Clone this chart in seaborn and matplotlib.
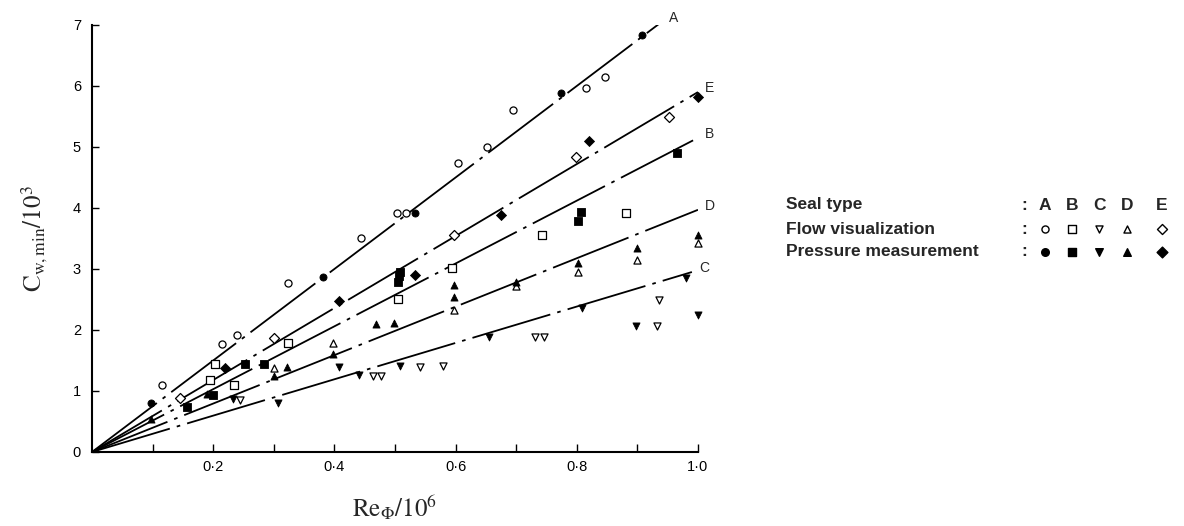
import matplotlib
matplotlib.use("Agg")
import matplotlib.pyplot as plt
import seaborn as sns
import numpy as np

sns.set_style("ticks")
plt.rcParams["font.family"] = ["Liberation Sans", "DejaVu Sans"]
plt.rcParams["mathtext.fontset"] = "stix"

# ---------------------------------------------------------------
# data (Re/1e6, Cw,min/1e3)
# ---------------------------------------------------------------
seals = ["A", "B", "C", "D", "E"]
markers = {"A": "o", "B": "s", "C": "v", "D": "^", "E": "D"}

# fitted lines: slope and end of the drawn line
line_slope = {"A": 7.5, "B": 5.15, "C": 2.98, "D": 3.97, "E": 5.9}
line_end = {"A": 0.94, "B": 1.0, "C": 0.99, "D": 1.0, "E": 1.0}

A_open_x = [0.116, 0.215, 0.24, 0.323, 0.444, 0.503, 0.518, 0.604, 0.652, 0.695, 0.815, 0.847]
A_open_y = [1.10, 1.77, 1.92, 2.77, 3.51, 3.92, 3.92, 4.73, 5.00, 5.60, 5.97, 6.15]
A_fill_x = [0.097, 0.381, 0.533, 0.774, 0.907]
A_fill_y = [0.80, 2.87, 3.92, 5.89, 6.84]

B_open_x = [0.195, 0.203, 0.234, 0.323, 0.505, 0.594, 0.742, 0.881]
B_open_y = [1.18, 1.44, 1.10, 1.79, 2.50, 3.02, 3.56, 3.92]
B_fill_x = [0.157, 0.20, 0.252, 0.284, 0.505, 0.507, 0.508, 0.802, 0.807, 0.965]
B_fill_y = [0.74, 0.93, 1.44, 1.44, 2.78, 2.88, 2.95, 3.79, 3.93, 4.90]

C_open_x = [0.244, 0.464, 0.477, 0.541, 0.579, 0.731, 0.746, 0.933, 0.935]
C_open_y = [0.85, 1.25, 1.25, 1.39, 1.41, 1.89, 1.89, 2.07, 2.49]
C_fill_x = [0.232, 0.307, 0.408, 0.44, 0.508, 0.655, 0.808, 0.897, 0.98, 1.0]
C_fill_y = [0.87, 0.80, 1.39, 1.26, 1.41, 1.89, 2.36, 2.07, 2.85, 2.25]

D_open_x = [0.30, 0.397, 0.597, 0.70, 0.802, 0.899, 1.0]
D_open_y = [1.38, 1.79, 2.33, 2.72, 2.95, 3.15, 3.42]
D_fill_x = [0.097, 0.19, 0.30, 0.321, 0.397, 0.469, 0.498, 0.597, 0.597, 0.70, 0.802, 0.899, 1.0]
D_fill_y = [0.54, 0.95, 1.25, 1.40, 1.60, 2.10, 2.11, 2.54, 2.74, 2.78, 3.10, 3.34, 3.56]

E_open_x = [0.145, 0.30, 0.597, 0.799, 0.952]
E_open_y = [0.89, 1.87, 3.56, 4.84, 5.49]
E_fill_x = [0.22, 0.408, 0.533, 0.675, 0.82, 1.0]
E_fill_y = [1.38, 2.48, 2.90, 3.89, 5.10, 5.82]

open_pts = {"A": (A_open_x, A_open_y), "B": (B_open_x, B_open_y), "C": (C_open_x, C_open_y),
            "D": (D_open_x, D_open_y), "E": (E_open_x, E_open_y)}
fill_pts = {"A": (A_fill_x, A_fill_y), "B": (B_fill_x, B_fill_y), "C": (C_fill_x, C_fill_y),
            "D": (D_fill_x, D_fill_y), "E": (E_fill_x, E_fill_y)}

x_ticks = [0.2, 0.4, 0.6, 0.8, 1.0]
x_minor = [0.1, 0.3, 0.5, 0.7, 0.9]
y_ticks = [0, 1, 2, 3, 4, 5, 6, 7]

# ---------------------------------------------------------------
# figure
# ---------------------------------------------------------------
fig = plt.figure(figsize=(11.84, 5.26), dpi=100)
ax = fig.add_axes([0.0777, 0.1407, 0.5118, 0.8118])

for s in seals:
    xe = line_end[s]
    sns.lineplot(x=[0, xe], y=[0, line_slope[s] * xe], ax=ax, color="black",
                 lw=1.3, linestyle=(0, (45, 4, 2, 4)), estimator=None)
    ax.text(xe + 0.012, line_slope[s] * xe + 0.07, s, fontsize=10,
            ha="left", va="center", clip_on=False)

for s in seals:
    ox, oy = open_pts[s]
    fx, fy = fill_pts[s]
    sns.scatterplot(x=ox, y=oy, ax=ax, marker=markers[s], s=26,
                    facecolor="white", edgecolor="black", linewidth=0.9,
                    zorder=3, clip_on=False)
    sns.scatterplot(x=fx, y=fy, ax=ax, marker=markers[s], s=26,
                    color="black", edgecolor="black", linewidth=0.6,
                    zorder=3, clip_on=False)

ax.set_xlim(0, 1.0)
ax.set_ylim(0, 7)
ax.set_xticks(x_ticks)
ax.set_xticklabels([f"{v:.1f}".replace(".", "\u00b7") for v in x_ticks])
ax.set_xticks(x_minor, minor=True)
ax.set_yticks(y_ticks)
ax.set_yticklabels([str(v) for v in y_ticks])
ax.tick_params(axis="both", which="both", direction="in", colors="black",
               labelsize=10.5, width=1.0)
ax.tick_params(axis="x", which="both", length=6, pad=6)
ax.tick_params(axis="y", length=5, pad=8)
sns.despine(ax=ax)
for sp in ["left", "bottom"]:
    ax.spines[sp].set_linewidth(1.5)
    ax.spines[sp].set_color("black")

ax.set_xlabel(r"$\mathrm{Re}_{\Phi}/10^6$", fontsize=18, labelpad=14,
              family="Liberation Serif")
ax.set_ylabel(r"$\mathrm{C}_{\mathrm{w,min}}/10^3$", fontsize=18, labelpad=16,
              family="Liberation Serif")

# legend block drawn as text + markers in pixel coordinates
lax = fig.add_axes([0, 0, 1, 1])
lax.set_xlim(0, 1184)
lax.set_ylim(526, 0)
lax.axis("off")
rows = ["Seal type", "Flow visualization", "Pressure measurement"]
row_y = [205, 229, 252]
col_x = [1045, 1072, 1099, 1127, 1162]
for r, yy in zip(rows, row_y):
    lax.text(786, yy, r, fontsize=12.5, fontweight="bold", va="center", ha="left")
    lax.text(1024, yy, ":", fontsize=12.5, fontweight="bold", va="center", ha="center")
for s, xx in zip(seals, col_x):
    lax.text(xx, row_y[0], s, fontsize=12.5, fontweight="bold", va="center", ha="center")
    lax.scatter([xx], [row_y[1]], marker=markers[s], s=26, facecolor="white",
                edgecolor="black", linewidth=1.0)
    lax.scatter([xx], [row_y[2]], marker=markers[s], s=30, color="black")

fig.savefig("out.png", dpi=100)
